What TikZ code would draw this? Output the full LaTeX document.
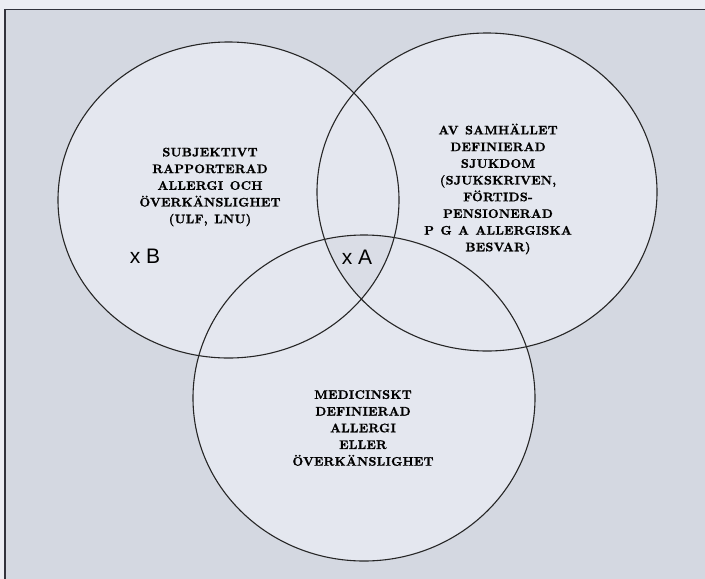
\documentclass[tikz,border=0pt]{standalone}
\usepackage{fontspec}
\newfontfamily\markfont{Liberation Sans}
\newfontfamily\setfont{lmroman10-bold.otf}[LetterSpace=2, FakeBold=1.2]
\newcommand\widespaces{\spaceskip=6.5pt plus 1pt\relax}
\definecolor{paper}{RGB}{236,237,243}
\definecolor{bggray}{RGB}{212,216,225}
\definecolor{inner}{RGB}{228,231,239}
\definecolor{lensgray}{RGB}{218,221,230}
\definecolor{framegray}{RGB}{50,50,60}

\begin{document}
\begin{tikzpicture}[x=1pt, y=-1pt,
    setline/.style={line width=1.1pt, black!85},
    setlabel/.style={align=center, inner sep=0pt,
      font=\setfont\fontsize{12.4}{16.7}\selectfont\widespaces},
    marklabel/.style={inner sep=0pt, font=\markfont\fontsize{21}{21}\selectfont}]
    \useasboundingbox (0,0) rectangle (705,579);

    % Paper and frame
    \fill[paper] (0,0) rectangle (705,579);
    \fill[bggray] (5,9.5) rectangle (705,579);
    \draw[framegray, line width=1.8pt] (5,579) -- (5,9.5) -- (705,9.5);

    % Centres of the three sets
    \coordinate (cLeft) at (228.5,200);
    \coordinate (cRight) at (487,192);
    \coordinate (cBottom) at (364,398);

    % Circle interiors
    \fill[inner] (cLeft) ellipse [x radius=170.5pt, y radius=158pt];
    \fill[inner] (cRight) ellipse [x radius=170pt, y radius=159pt];
    \fill[inner] (cBottom) ellipse [x radius=171pt, y radius=163pt];

    % Common part of all three
    \begin{scope}
      \clip (cLeft) ellipse [x radius=170.5pt, y radius=158pt];
      \clip (cRight) ellipse [x radius=170pt, y radius=159pt];
      \fill[lensgray] (cBottom) ellipse [x radius=171pt, y radius=163pt];
    \end{scope}

    % Circle outlines
    \draw[setline] (cLeft) ellipse [x radius=170.5pt, y radius=158pt];
    \draw[setline] (cRight) ellipse [x radius=170pt, y radius=159pt];
    \draw[setline] (cBottom) ellipse [x radius=171pt, y radius=163pt];

    % Set labels
    \node[setlabel] (subj) at (210,187)
      {SUBJEKTIVT\\RAPPORTERAD\\ALLERGI OCH\\ÖVERKÄNSLIGHET\\(ULF, LNU)};
    \node[setlabel] (samh) at (498,189)
      {AV SAMHÄLLET\\DEFINIERAD\\SJUKDOM\\(SJUKSKRIVEN,\\FÖRTIDS-\\PENSIONERAD\\P G A ALLERGISKA\\BESVAR)};
    \node[setlabel] (medi) at (363,428)
      {MEDICINSKT\\DEFINIERAD\\ALLERGI\\ELLER\\ÖVERKÄNSLIGHET};

    % Marked points
    \node[marklabel] (markB) at (145,256) {x B};
    \node[marklabel] (markA) at (357,257) {x A};
\end{tikzpicture}
\end{document}
